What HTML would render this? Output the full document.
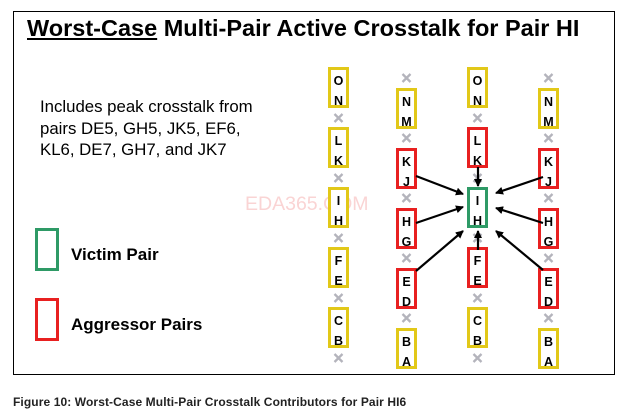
<!DOCTYPE html>
<html><head><style>
body{margin:0;width:622px;height:412px;background:#fff;position:relative;font-family:"Liberation Sans",Arial,sans-serif;overflow:hidden}
.frame{position:absolute;left:13px;top:11px;width:602px;height:364px;border:1px solid #000;box-sizing:border-box}
.t{position:absolute;white-space:nowrap}
</style></head><body>
<div class="frame"></div>
<div class="t" style="left:27px;top:15px;font-size:23.5px;font-weight:bold"><u>Worst-Case</u> Multi-Pair Active Crosstalk for Pair HI</div>
<div class="t" style="left:40px;top:96px;font-size:16.8px;line-height:21.5px">Includes peak crosstalk from<br>pairs DE5, GH5, JK5, EF6,<br>KL6, DE7, GH7, and JK7</div>
<div class="t" style="left:71px;top:245px;font-size:17px;font-weight:bold">Victim Pair</div>
<div class="t" style="left:71px;top:315px;font-size:17px;font-weight:bold">Aggressor Pairs</div>
<div class="t" style="left:13px;top:395px;font-size:12px;font-weight:bold;letter-spacing:0.1px;color:#222">Figure 10: Worst-Case Multi-Pair Crosstalk Contributors for Pair HI6</div>
<div class="t" style="left:245px;top:193px;font-size:19.5px;color:#fad4d4">EDA365.COM</div>
<svg width="622" height="412" style="position:absolute;left:0;top:0" font-family="Liberation Sans,Arial,sans-serif">
<defs><marker id="a" markerWidth="8" markerHeight="8" refX="7" refY="4" orient="auto" markerUnits="userSpaceOnUse"><path d="M0,0L8,4L0,8z" fill="#000"/></marker></defs>
<rect x="36.5" y="229.5" width="21" height="40" fill="none" stroke="#2e9a66" stroke-width="3"/>
<rect x="36.5" y="299.5" width="21" height="40" fill="none" stroke="#e82020" stroke-width="3"/>
<g font-size="12.5" font-weight="bold" text-anchor="middle" id="g"></g>
<g stroke="#000" stroke-width="2.2" marker-end="url(#a)">
<line x1="416" y1="176" x2="463" y2="194"/>
<line x1="416" y1="223" x2="463" y2="207"/>
<line x1="416" y1="271" x2="463" y2="231"/>
<line x1="543" y1="177" x2="496" y2="193"/>
<line x1="543" y1="223" x2="496" y2="208"/>
<line x1="543" y1="270" x2="496" y2="231"/>
<line x1="478" y1="167" x2="478" y2="186"/>
<line x1="478" y1="250" x2="478" y2="231"/>
</g>
</svg>
<script>
var Y="#e2c818",R="#e82020",G="#2e9a66";
var cols=[
 {x:328,top:67,c:[Y,Y,Y,Y,Y],l:["ON","LK","IH","FE","CB"],xs:[118,178,238,298,358]},
 {x:396,top:88,c:[Y,R,R,R,Y],l:["NM","KJ","HG","ED","BA"],xs:[78,138,198,258,318]},
 {x:467,top:67,c:[Y,R,G,R,Y],l:["ON","LK","IH","FE","CB"],xs:[118,178,238,298,358]},
 {x:538,top:88,c:[Y,R,R,R,Y],l:["NM","KJ","HG","ED","BA"],xs:[78,138,198,258,318]}];
var s="";
cols.forEach(function(c){
 c.xs.forEach(function(y){var cx=c.x+10.5;s+='<path d="M'+(cx-4)+','+(y-4)+'L'+(cx+4)+','+(y+4)+'M'+(cx+4)+','+(y-4)+'L'+(cx-4)+','+(y+4)+'" stroke="#b4b4bc" stroke-width="2.3"/>';});
 for(var i=0;i<5;i++){var y=c.top+60*i;
  s+='<rect x="'+(c.x+1.5)+'" y="'+(y+1.5)+'" width="18" height="38" fill="#fff" stroke="'+c.c[i]+'" stroke-width="3"/>';
  s+='<text x="'+(c.x+10.5)+'" y="'+(y+18)+'">'+c.l[i][0]+'</text>';
  s+='<text x="'+(c.x+10.5)+'" y="'+(y+38)+'">'+c.l[i][1]+'</text>';}
});
document.getElementById("g").innerHTML=s;
</script>
</body></html>
